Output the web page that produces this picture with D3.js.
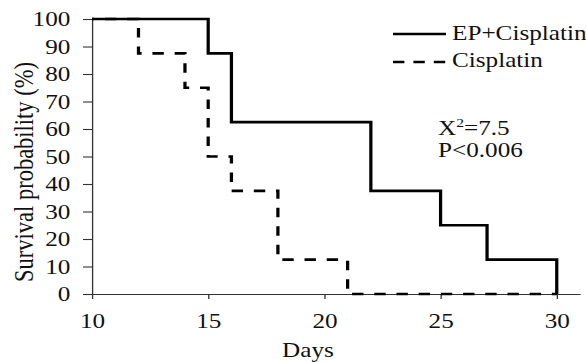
<!DOCTYPE html>
<html>
<head>
<meta charset="utf-8">
<script src="https://cdn.jsdelivr.net/npm/d3@7/dist/d3.min.js"></script>
<style>
  html, body { margin: 0; padding: 0; background: #fff; }
  svg { display: block; }
  text { font-family: "Liberation Serif", "Times New Roman", serif; fill: #111; }
</style>
</head>
<body>
<svg id="chart" width="586" height="362"></svg>
<script>
// ---- data ----
const seriesNames = ["EP+Cisplatin", "Cisplatin"];
const epDays = [10, 15, 16, 22, 25, 27, 30];
const epSurvival = [100, 87.5, 62.5, 37.5, 25, 12.5, 0];
const cisDays = [10, 12, 14, 15, 16, 18, 21, 30];
const cisSurvival = [100, 87.5, 75, 50, 37.5, 12.5, 0, 0];
const xTicks = [10, 15, 20, 25, 30];
const yTicks = [0, 10, 20, 30, 40, 50, 60, 70, 80, 90, 100];
const statLines = ["X", "2", "=7.5", "P<0.006"];

// ---- layout ----
const W = 586, H = 362;
const sx = 1.2; // horizontal stretch of the reference
const svg = d3.select("#chart");
svg.append("rect").attr("width", W).attr("height", H).attr("fill", "#fff");
const g = svg.append("g").attr("transform", `scale(${sx},1)`);

const x = d3.scaleLinear().domain([10, 31]).range([92 / sx, 580 / sx]);
const y = d3.scaleLinear().domain([0, 100]).range([294, 19]);

const axisColor = "#333";
const fs = 21;

// y axis
const yAxis = g.append("g").attr("transform", `translate(${x(10)},0)`)
  .call(d3.axisLeft(y).tickValues(yTicks).tickSize(7.5).tickSizeOuter(0).tickPadding(10.5).tickFormat(d3.format("d")));
// x axis
const xAxis = g.append("g").attr("transform", `translate(0,${y(0)})`)
  .call(d3.axisBottom(x).tickValues(xTicks).tickSize(5).tickSizeOuter(0).tickPadding(14).tickFormat(d3.format("d")));

[yAxis, xAxis].forEach(a => {
  a.selectAll("path.domain").attr("stroke", axisColor).attr("stroke-width", 1.1);
  a.selectAll(".tick line").attr("stroke", axisColor).attr("stroke-width", 1.1);
  a.selectAll(".tick text").attr("font-size", fs).attr("fill", "#111")
    .attr("font-family", '"Liberation Serif", "Times New Roman", serif');
});

// axis titles
g.append("text").attr("x", 308 / sx).attr("y", 357).attr("text-anchor", "middle")
  .attr("font-size", fs).text("Days");
g.append("text").attr("transform", `translate(${33 / sx},172) rotate(-90)`)
  .attr("text-anchor", "middle").attr("font-size", 22.5).text("Survival probability (%)");

// lines
const lineGen = d3.line().x(d => x(d[0])).y(d => y(d[1])).curve(d3.curveStepAfter);
const cisData = cisDays.map((d, i) => [d, cisSurvival[i]]);
const epData = epDays.map((d, i) => [d, epSurvival[i]]);

const dashA = 9.5, dashB = 9;
const lead = x(cisDays[1]) - x(cisDays[0]);
let off = (dashA - lead) % (dashA + dashB);
g.append("path").datum(cisData).attr("d", lineGen)
  .attr("fill", "none").attr("stroke", "#000").attr("stroke-width", 2.7)
  .attr("stroke-dasharray", `${dashA},${dashB}`).attr("stroke-dashoffset", off)
  .attr("stroke-linejoin", "miter").attr("stroke-linecap", "butt");

g.append("path").datum(epData).attr("d", lineGen)
  .attr("fill", "none").attr("stroke", "#000").attr("stroke-width", 2.7)
  .attr("stroke-linejoin", "miter").attr("stroke-linecap", "butt");

// legend
const leg = g.append("g");
const legY = [34, 62];
const legTextY = [40, 67];
seriesNames.forEach((name, i) => {
  leg.append("line").attr("x1", 393 / sx).attr("x2", 446 / sx)
    .attr("y1", legY[i]).attr("y2", legY[i])
    .attr("stroke", "#000").attr("stroke-width", 2.7)
    .attr("stroke-dasharray", i === 1 ? `${dashA},${dashB - 1.5}` : null);
  leg.append("text").attr("x", 452 / sx).attr("y", legTextY[i])
    .attr("font-size", fs).text(name);
});

// statistics annotation
const st = g.append("text").attr("x", 438 / sx).attr("y", 135).attr("font-size", fs);
st.append("tspan").text(statLines[0]);
st.append("tspan").attr("font-size", 13).attr("dy", -8).text(statLines[1]);
st.append("tspan").attr("dy", 8).text(statLines[2]);
g.append("text").attr("x", 438 / sx).attr("y", 157).attr("font-size", fs).text(statLines[3]);
</script>
</body>
</html>
